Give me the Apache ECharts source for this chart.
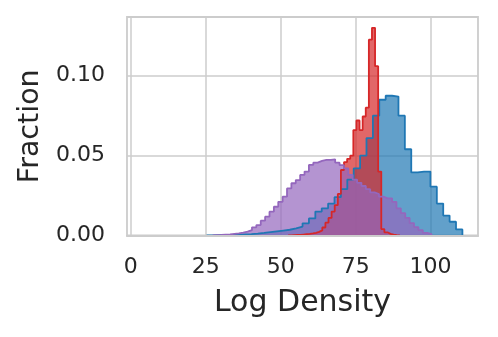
<!DOCTYPE html>
<html>
<head>
<meta charset="utf-8">
<script src="https://cdn.jsdelivr.net/npm/echarts@6/dist/echarts.min.js"></script>
<style>
  html, body { margin: 0; padding: 0; background: #fff; }
  #chart { width: 498px; height: 337px; }
</style>
</head>
<body>
<div id="chart"></div>
<script>
// histogram bins (fraction per bin)
const blueStart = 4.0
const blueBinWidth = 2.132
const blueFrac = [
  0, 0, 0, 0, 0, 0, 0, 0, 0, 0,
  0.0001, 0.0002, 0.0003, 0.0004, 0.0005, 0.0007, 0.0009, 0.0012, 0.0016, 0.0021,
  0.0026, 0.0031, 0.0036, 0.0045, 0.0056, 0.0076, 0.0107, 0.015, 0.017, 0.020,
  0.024, 0.029, 0.035, 0.042, 0.050, 0.061, 0.075, 0.085, 0.0875, 0.087,
  0.075, 0.054, 0.0395, 0.040, 0.040, 0.0306, 0.020, 0.0125, 0.0086, 0.0038
]

const redStart = 40.08
const redBinWidth = 1.035
const redFrac = [
  0, 0, 0, 0, 0, 0, 0, 0, 0, 0, 0, 0,
  0.0001, 0.0002, 0.0003, 0.0004, 0.0006, 0.0008, 0.001, 0.0013, 0.0017, 0.0023,
  0.0032, 0.005, 0.008, 0.011, 0.015, 0.019, 0.026, 0.041, 0.046, 0.048,
  0.050, 0.066, 0.072, 0.066, 0.0745, 0.080, 0.1226, 0.130, 0.106, 0.040,
  0.004, 0.002, 0.001, 0.0005, 0.0002, 0.0001
]

const purpleStart = 27.3
const purpleBinWidth = 1.46
const purpleFrac = [
  0.0002, 0.0003, 0.0005, 0.0007, 0.001, 0.0013, 0.0018, 0.0024, 0.0034, 0.0051,
  0.0065, 0.0093, 0.0118, 0.0149, 0.018, 0.0211, 0.0243, 0.0295, 0.0327, 0.0347,
  0.0379, 0.040, 0.0442, 0.0456, 0.0467, 0.0473, 0.0473, 0.0477, 0.0456, 0.044,
  0.042, 0.038, 0.035, 0.033, 0.031, 0.029, 0.027, 0.026, 0.0243, 0.0233,
  0.0233, 0.021, 0.017, 0.014, 0.011, 0.0078, 0.0053, 0.0034, 0.0017, 0.0008
]

const xTicks = [0, 25, 50, 75, 100]
const yTicks = [0, 0.05, 0.10]

const TEXT = '#262626'
const GRID = '#cccccc'
const FONT = 'DejaVu Sans'
const X_MIN = -1.23
const X_MAX = 115.8

// outline of a step histogram: up at the first edge, flat over each bin, down at the last edge
function stepPoints(start, width, fracs) {
  let first = 0
  while (first < fracs.length && fracs[first] === 0) first++
  let last = fracs.length - 1
  while (last > first && fracs[last] === 0) last--
  const pts = [[start + first * width, 0]]
  for (let i = first; i <= last; i++) {
    pts.push([start + i * width, fracs[i]])
  }
  pts.push([start + (last + 1) * width, 0])
  return pts
}

function histSeries(name, color, pts) {
  return {
    name,
    type: 'line',
    step: 'end',
    symbol: 'none',
    silent: true,
    data: pts,
    lineStyle: { color, width: 1.8 },
    areaStyle: { color, opacity: 0.7 }
  }
}

const chart = echarts.init(document.getElementById('chart'), null, { renderer: 'canvas' })

chart.setOption({
  animation: false,
  backgroundColor: '#ffffff',
  textStyle: { fontFamily: FONT, color: TEXT },
  grid: {
    left: 127,
    right: 20,
    top: 17,
    bottom: 101.5,
    show: true,
    borderColor: GRID,
    borderWidth: 1.8,
    backgroundColor: 'transparent'
  },
  xAxis: [
    {
      type: 'value',
      min: X_MIN,
      max: X_MAX,
      name: 'Log Density',
      nameLocation: 'middle',
      nameGap: 53,
      nameTextStyle: { fontSize: 30, color: TEXT, fontFamily: FONT },
      axisLine: { show: false },
      axisTick: { show: false, customValues: xTicks },
      axisLabel: {
        customValues: xTicks,
        margin: 21,
        fontSize: 22,
        color: TEXT,
        fontFamily: FONT
      },
      splitLine: { show: true, lineStyle: { color: GRID, width: 1.5 } }
    },
    {
      // bottom spine drawn above the fills, as in the source figure
      type: 'value',
      position: 'bottom',
      min: X_MIN,
      max: X_MAX,
      z: 10,
      axisLine: { show: true, lineStyle: { color: GRID, width: 2.2 } },
      axisTick: { show: false },
      axisLabel: { show: false },
      splitLine: { show: false }
    }
  ],
  yAxis: {
    type: 'value',
    min: 0,
    max: 0.1368,
    name: 'Fraction',
    nameLocation: 'middle',
    nameGap: 77,
    nameTextStyle: { fontSize: 28.5, color: TEXT, fontFamily: FONT },
    axisLine: { show: false },
    axisTick: { show: false, customValues: yTicks },
    axisLabel: {
      customValues: yTicks,
      margin: 22,
      fontSize: 22,
      color: TEXT,
      fontFamily: FONT,
      formatter: v => v.toFixed(2)
    },
    splitLine: { show: true, lineStyle: { color: GRID, width: 1.5 } }
  },
  series: [
    histSeries('blue', '#1f77b4', stepPoints(blueStart, blueBinWidth, blueFrac)),
    histSeries('red', '#d62728', stepPoints(redStart, redBinWidth, redFrac)),
    histSeries('purple', '#9467bd', stepPoints(purpleStart, purpleBinWidth, purpleFrac))
  ]
})
</script>
</body>
</html>
